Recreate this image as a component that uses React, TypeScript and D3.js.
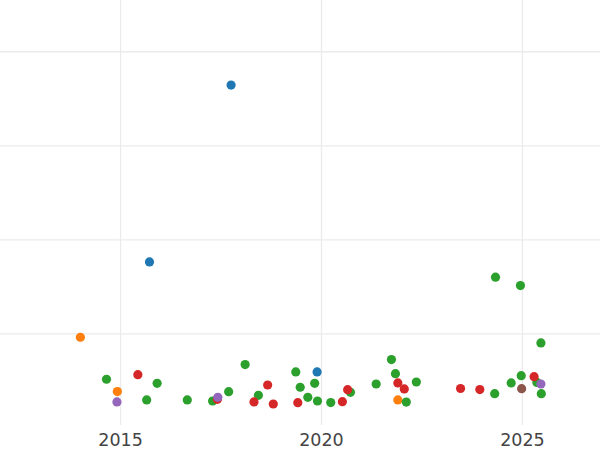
import React from "react";
import * as d3 from "d3";

const W = 600;
const H = 450;

const xTicks = [2015, 2020, 2025];
const yGrid = [100, 200, 300, 400];

const seriesNames = ["blue", "orange", "green", "red", "purple", "brown"];
const seriesColors = ["#1f77b4", "#ff7f0e", "#2ca02c", "#d62728", "#9467bd", "#8c564b"];

// [year, value]
const blueData: [number, number][] = [
  [2015.72, 176.6],
  [2017.75, 364.6],
  [2019.89, 59.6],
];
const orangeData: [number, number][] = [
  [2014.0, 96.5],
  [2014.92, 38.7],
  [2021.90, 29.8],
];
const greenData: [number, number][] = [
  [2014.65, 51.8],
  [2015.65, 29.8],
  [2015.91, 47.5],
  [2016.66, 29.8],
  [2017.29, 28.7],
  [2017.69, 38.6],
  [2018.10, 67.4],
  [2018.43, 34.7],
  [2019.36, 59.6],
  [2019.47, 43.3],
  [2019.66, 32.6],
  [2019.83, 47.5],
  [2019.90, 28.7],
  [2020.23, 27.0],
  [2020.72, 37.9],
  [2021.36, 46.8],
  [2021.74, 72.7],
  [2021.84, 57.8],
  [2022.11, 27.6],
  [2022.36, 48.9],
  [2024.33, 160.3],
  [2024.31, 36.5],
  [2024.72, 47.9],
  [2024.95, 151.4],
  [2024.97, 55.6],
  [2025.36, 48.5],
  [2025.46, 90.4],
  [2025.47, 36.5],
];
const redData: [number, number][] = [
  [2015.43, 56.7],
  [2017.41, 30.5],
  [2018.32, 27.7],
  [2018.66, 45.7],
  [2018.80, 25.5],
  [2019.41, 26.9],
  [2020.52, 28.0],
  [2020.65, 40.7],
  [2021.90, 47.9],
  [2022.06, 41.5],
  [2023.46, 42.0],
  [2023.94, 40.8],
  [2025.29, 54.6],
];
const purpleData: [number, number][] = [
  [2014.91, 27.7],
  [2017.42, 32.6],
  [2025.46, 46.8],
];
const brownData: [number, number][] = [[2024.98, 41.8]];

const allSeries = [blueData, orangeData, greenData, redData, purpleData, brownData];

export default function App() {
  const x = d3.scaleLinear().domain([2012.0, 2026.93]).range([0, W]);
  const y = d3.scaleLinear().domain([0, 455]).range([428, 0]);
  const plotBottom = 425;

  return (
    <svg
      width={W}
      height={H}
      style={{ position: "absolute", left: 0, top: 0, background: "#ffffff" }}
      fontFamily="DejaVu Sans, sans-serif"
    >
      <g>
        {yGrid.map((v) => (
          <line
            key={"h" + v}
            x1={0}
            x2={W}
            y1={y(v)}
            y2={y(v)}
            stroke="#ebebeb"
            strokeWidth={1.3}
          />
        ))}
        {xTicks.map((t) => (
          <line
            key={"v" + t}
            x1={x(t)}
            x2={x(t)}
            y1={0}
            y2={plotBottom}
            stroke="#ebebeb"
            strokeWidth={1.3}
          />
        ))}
      </g>
      <g>
        {allSeries.map((data, si) => (
          <g key={seriesNames[si]}>
            {data.map((d, i) => (
              <circle
                key={i}
                cx={x(d[0])}
                cy={y(d[1])}
                r={4.6}
                fill={seriesColors[si]}
              />
            ))}
          </g>
        ))}
      </g>
      <g>
        {xTicks.map((t) => (
          <text
            key={"t" + t}
            x={x(t)}
            y={446}
            textAnchor="middle"
            fontSize={17.5}
            fill="#444444"
          >
            {t}
          </text>
        ))}
      </g>
    </svg>
  );
}
